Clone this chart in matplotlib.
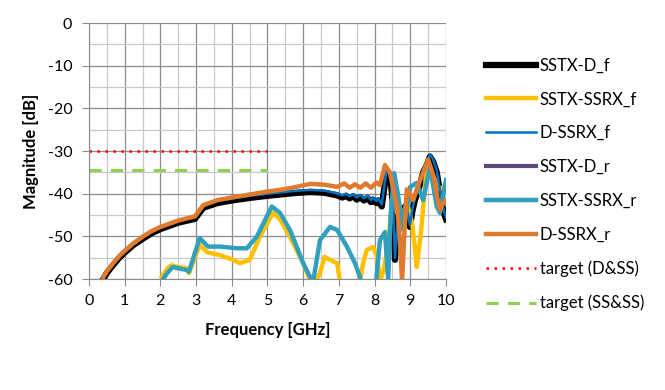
import matplotlib
import matplotlib.pyplot as plt
from matplotlib.ticker import MultipleLocator

matplotlib.use('Agg')

# SSTX-D_f (black), D-SSRX_f sits just above it
freq_df = [0.4, 0.5, 0.67, 0.85, 1.0, 1.25, 1.5, 1.75, 2.0, 2.5, 2.97, 3.2, 3.6, 4.0, 4.5, 5.0,
           5.35, 5.7, 6.2, 6.6, 6.95, 7.1, 7.2, 7.3, 7.4, 7.5, 7.6, 7.7, 7.8, 7.9, 7.95, 8.05,
           8.1, 8.2, 8.34, 8.45, 8.52, 8.57, 8.64, 8.71, 8.78, 8.85, 8.92, 8.99, 9.06, 9.13,
           9.25, 9.36, 9.45, 9.55, 9.64, 9.74, 9.81, 9.88, 9.94, 10.0]
sstx_d_f = [-60, -58.6, -56.8, -55.0, -53.8, -52.0, -50.6, -49.3, -48.3, -46.8, -45.9, -43.3,
            -42.2, -41.6, -41.0, -40.5, -40.2, -39.9, -39.6, -39.8, -40.4, -40.9, -40.5, -41.1,
            -40.6, -41.4, -40.8, -41.6, -41.0, -42.0, -41.4, -42.2, -41.6, -43.0, -34.6, -37.0,
            -43.0, -55.5, -48.0, -45.4, -47.0, -43.0, -44.5, -47.8, -44.0, -41.5, -38.5, -35.0,
            -33.5, -31.3, -32.5, -35.0, -38.5, -42.2, -44.5, -46.0]
d_ssrx_f = [v + 0.5 for v in sstx_d_f]
sstx_d_r = [v + 0.2 for v in sstx_d_f]

# D-SSRX_r (orange)
freq_dr = [0.4, 0.5, 0.67, 0.85, 1.0, 1.25, 1.5, 1.75, 2.0, 2.5, 2.97, 3.2, 3.6, 4.0, 4.5, 5.0,
           5.35, 5.7, 6.2, 6.6, 6.95, 7.15, 7.3, 7.45, 7.6, 7.75, 7.9, 8.05, 8.15, 8.29, 8.43,
           8.55, 8.63, 8.7, 8.77, 8.83, 8.9, 8.99, 9.08, 9.2, 9.36, 9.5, 9.6, 9.69, 9.76, 9.83,
           9.9, 10.0]
d_ssrx_r = [-59.6, -58.2, -56.4, -54.6, -53.4, -51.6, -50.1, -48.8, -47.8, -46.3, -45.3, -42.7,
            -41.5, -40.9, -40.2, -39.5, -39.1, -38.6, -37.7, -37.9, -38.4, -37.6, -38.6, -37.8,
            -38.6, -37.6, -38.6, -37.4, -38.0, -33.3, -35.0, -40.0, -43.0, -50.0, -60.5, -50.0,
            -39.0, -40.0, -41.5, -38.5, -35.0, -32.0, -34.5, -37.5, -41.0, -43.8, -42.5, -41.5]

# SSTX-SSRX_f (yellow)
freq_sf = [2.04, 2.2, 2.3, 2.5, 2.74, 2.8, 3.1, 3.3, 3.67, 4.03, 4.23, 4.5, 4.79, 5.15, 5.35,
           5.63, 6.0, 6.2, 6.33, 6.47, 6.6, 6.75, 6.95, 7.03, 7.1, 7.55, 7.68, 7.78, 7.96, 8.07,
           8.15, 8.25, 8.38, 8.49, 8.6, 8.75, 8.9, 9.05, 9.12, 9.18, 9.24, 9.3, 9.46, 9.6, 9.7,
           9.83, 10.0]
sstx_ssrx_f = [-59.5, -57.5, -56.8, -57.2, -57.5, -58.6, -52.0, -53.7, -54.4, -55.5, -56.3,
               -55.5, -50.1, -44.5, -46.0, -50.1, -56.3, -60.5, -61.0, -58.6, -54.8, -55.5,
               -56.3, -60.5, -62.0, -62.0, -56.3, -53.2, -52.5, -54.8, -60.5, -58.0, -52.0,
               -41.5, -44.0, -46.0, -42.0, -46.9, -52.0, -57.2, -53.0, -49.0, -33.7, -35.0,
               -37.0, -39.0, -38.0]

# SSTX-SSRX_r (teal)
freq_sr = [2.08, 2.2, 2.35, 2.5, 2.74, 2.8, 3.1, 3.33, 3.67, 4.15, 4.42, 4.7, 5.12, 5.35, 5.63,
           6.0, 6.19, 6.25, 6.3, 6.47, 6.75, 6.95, 7.23, 7.45, 7.59, 7.65, 8.0, 8.05, 8.15, 8.29,
           8.38, 8.45, 8.55, 8.65, 8.8, 9.0, 9.18, 9.36, 9.55, 9.74, 9.83, 10.0]
sstx_ssrx_r = [-60, -58.5, -57.2, -57.5, -57.9, -58.3, -50.4, -52.4, -52.4, -52.8, -52.8, -50.1,
               -43.0, -44.5, -48.5, -56.3, -59.5, -61.0, -59.5, -50.9, -47.8, -48.5, -52.5,
               -56.3, -59.5, -62.0, -62.0, -60.0, -50.9, -49.0, -60.0, -45.0, -35.2, -40.0,
               -48.5, -38.4, -37.5, -41.5, -33.7, -43.0, -44.5, -36.8]

# target lines
target_x = [0, 5]
target_dss = [-30, -30]
target_ssss = [-34.5, -34.5]

plt.rcParams['font.family'] = ['Lato', 'DejaVu Sans']
fig = plt.figure(figsize=(6.65, 3.9), dpi=100)
ax = fig.add_axes([0.1338, 0.2846, 0.5369, 0.6564])
fs = 11.5

# purple drawn first so it stays hidden under the black trace
h_dr, = ax.plot(freq_df, sstx_d_r, color='#604a7b', lw=3.0, label='SSTX-D_r')
h_df, = ax.plot(freq_df, sstx_d_f, color='black', lw=4.5, label='SSTX-D_f', solid_joinstyle='round')
h_sf, = ax.plot(freq_sf, sstx_ssrx_f, color='#ffc000', lw=3.2, label='SSTX-SSRX_f')
h_bf, = ax.plot(freq_df, d_ssrx_f, color='#0070c0', lw=1.8, label='D-SSRX_f')
h_sr, = ax.plot(freq_sr, sstx_ssrx_r, color='#31a0bd', lw=3.2, label='SSTX-SSRX_r')
h_or, = ax.plot(freq_dr, d_ssrx_r, color='#e07a2f', lw=3.2, label='D-SSRX_r')
h_t1, = ax.plot(target_x, target_dss, color='#ff0000', lw=1.8, ls=(0, (1, 2.2)), label='target (D&SS)')
h_t2, = ax.plot(target_x, target_ssss, color='#92d050', lw=2.2, ls=(0, (4, 3)), label='target (SS&SS)')

ax.set_xlim(0, 10)
ax.set_ylim(-60, 0)
ax.xaxis.set_major_locator(MultipleLocator(1))
ax.xaxis.set_minor_locator(MultipleLocator(0.5))
ax.yaxis.set_major_locator(MultipleLocator(10))
ax.yaxis.set_minor_locator(MultipleLocator(5))
ax.grid(which='major', color='#8c8c8c', lw=0.9)
ax.grid(which='minor', color='#c8c8c8', lw=0.9)
ax.set_axisbelow(True)
for s in ['top', 'right']:
    ax.spines[s].set_visible(False)
for s in ['left', 'bottom']:
    ax.spines[s].set_color('#8c8c8c')
ax.tick_params(which='major', length=5, color='#8c8c8c', labelsize=fs)
ax.tick_params(axis='y', pad=7)
ax.tick_params(axis='x', pad=6)
ax.tick_params(which='minor', length=0)
ax.set_yticklabels([f'{int(v)}' if v == 0 else f'-{abs(int(v))}' for v in ax.get_yticks()])
ax.set_xlabel('Frequency [GHz]', fontsize=12, fontweight='bold', labelpad=10)
ax.set_ylabel('Magnitude [dB]', fontsize=12, fontweight='bold', labelpad=6)

handles = [h_df, h_sf, h_bf, h_dr, h_sr, h_or, h_t1, h_t2]
fig.legend(handles=handles, labels=[h.get_label() for h in handles],
           loc='upper left', bbox_to_anchor=(0.718, 0.874), frameon=False, fontsize=12,
           handlelength=3.0, handletextpad=0.25, labelspacing=1.07, borderpad=0)

plt.savefig('out.png', dpi=100)
plt.close()
